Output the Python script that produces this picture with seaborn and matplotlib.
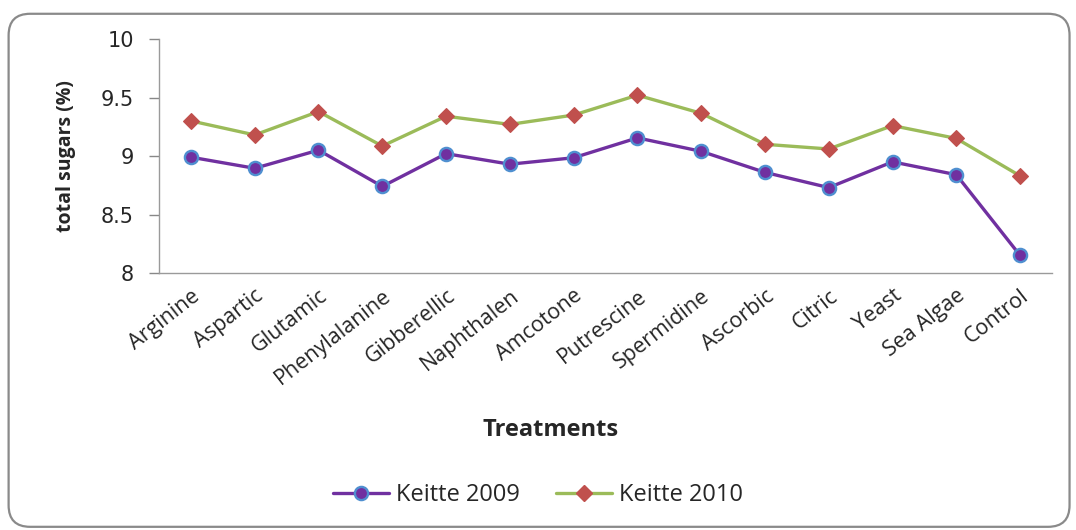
import matplotlib
matplotlib.use("Agg")
import matplotlib.pyplot as plt
from matplotlib.patches import FancyBboxPatch
from matplotlib.lines import Line2D
import seaborn as sns
import pandas as pd

treatments = ["Arginine", "Aspartic", "Glutamic", "Phenylalanine", "Gibberellic",
              "Naphthalen", "Amcotone", "Putrescine", "Spermidine", "Ascorbic",
              "Citric", "Yeast", "Sea Algae", "Control"]
keitte_2009 = [8.99, 8.895, 9.05, 8.74, 9.02, 8.93, 8.985, 9.155, 9.04, 8.86,
               8.73, 8.95, 8.84, 8.15]
keitte_2010 = [9.30, 9.18, 9.38, 9.085, 9.34, 9.27, 9.35, 9.52, 9.365, 9.10,
               9.06, 9.26, 9.15, 8.83]
series_names = ["Keitte 2009", "Keitte 2010"]
y_ticks = [8, 8.5, 9, 9.5, 10]
y_tick_labels = ["8", "8.5", "9", "9.5", "10"]

sns.set_style("white")
plt.rcParams["font.family"] = ["Open Sans", "DejaVu Sans"]

df = pd.DataFrame({
    "Treatment": treatments * 2,
    "value": keitte_2009 + keitte_2010,
    "series": [series_names[0]] * len(treatments) + [series_names[1]] * len(treatments),
})

fig = plt.figure(figsize=(10.76, 5.30), dpi=100)
ax = fig.add_axes([0.1478, 0.4849, 0.8299, 0.4415])

purple = "#7030A0"
green = "#9BBB59"
red = "#C0504D"
blue_edge = "#4F8FD0"

d09 = df[df["series"] == series_names[0]]
d10 = df[df["series"] == series_names[1]]
sns.lineplot(data=d09, x="Treatment", y="value", ax=ax, sort=False, color=purple,
             linewidth=2.4, marker="o", markersize=9.5, markerfacecolor=purple,
             markeredgecolor=blue_edge, markeredgewidth=1.7)
sns.lineplot(data=d10, x="Treatment", y="value", ax=ax, sort=False, color=green,
             linewidth=2.4, marker="D", markersize=8.5, markerfacecolor=red,
             markeredgecolor=red, markeredgewidth=0.8)

ax.set_xlim(-0.5, len(treatments) - 0.5)
ax.set_ylim(8, 10)
ax.set_yticks(y_ticks)
ax.set_yticklabels(y_tick_labels, fontfamily="DejaVu Sans", fontsize=15)
ax.set_xticks(range(len(treatments)))
ax.set_xticklabels(treatments, rotation=38, ha="right", rotation_mode="anchor",
                   fontsize=15.5)
ax.tick_params(axis="y", which="major", length=7, width=1, color="#888888",
               pad=11, left=True, direction="out")
ax.tick_params(axis="x", length=0, pad=9)

for s in ["top", "right"]:
    ax.spines[s].set_visible(False)
for s in ["left", "bottom"]:
    ax.spines[s].set_color("#9a9a9a")
    ax.spines[s].set_linewidth(1.0)

ax.set_xlabel("")
fig.text(0.512, 0.189, "Treatments", fontsize=17, fontweight="bold",
         ha="center", va="center")
ax.set_ylabel("total sugars (%)", fontsize=14, fontweight="bold")
ax.yaxis.set_label_coords(-0.093, 0.5)

handles = [
    Line2D([0], [0], color=purple, linewidth=2.4, marker="o", markersize=9.5,
           markerfacecolor=purple, markeredgecolor=blue_edge, markeredgewidth=1.7),
    Line2D([0], [0], color=green, linewidth=2.4, marker="D", markersize=8.5,
           markerfacecolor=red, markeredgecolor=red),
]
fig.legend(handles, series_names, loc="center", bbox_to_anchor=(0.5, 0.066),
           ncol=2, frameon=False, fontsize=17, handlelength=2.4,
           columnspacing=1.5, handletextpad=0.3)

frame = FancyBboxPatch((0.008, 0.006), 0.986, 0.968,
                       boxstyle="round,pad=0,rounding_size=0.02",
                       transform=fig.transFigure, facecolor="none",
                       edgecolor="#8a8a8a", linewidth=1.6, zorder=0,
                       mutation_aspect=10.76 / 5.30)
fig.patches.append(frame)

fig.savefig("out.png", dpi=100)
